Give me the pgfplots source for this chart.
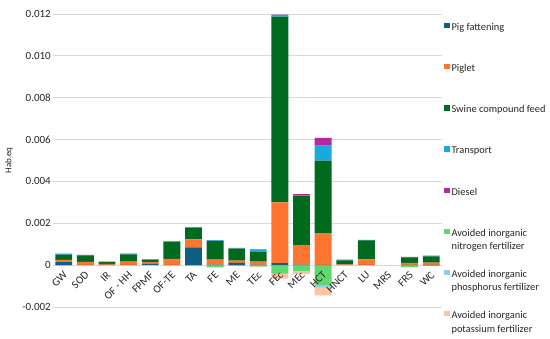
\documentclass[border=0pt]{standalone}
\usepackage{pgfplots}
\pgfplotsset{compat=1.18}
\usepackage{fontspec}
\setmainfont{Carlito}

\definecolor{cPig}{HTML}{0F5F85}
\definecolor{cPiglet}{HTML}{FF7530}
\definecolor{cFeed}{HTML}{006B1E}
\definecolor{cTrans}{HTML}{1AA9DE}
\definecolor{cDiesel}{HTML}{B5299E}
\definecolor{cN}{HTML}{5FD96E}
\definecolor{cP}{HTML}{92C9F0}
\definecolor{cK}{HTML}{FFC2A3}
\definecolor{cGrid}{HTML}{D9D9D9}
\definecolor{cText}{HTML}{262626}

\pgfplotsset{
  sq/.style={fill=#1, draw=none,
    legend image code/.code={\fill[#1] (0pt,4.95pt) rectangle (5.4pt,10.35pt);}},
  base/.style={
    scale only axis, width=389pt, height=293pt,
    xmin=-0.5, xmax=17.5, ymin=-0.002, ymax=0.012,
    ybar stacked, bar width=0.78,
    axis line style={draw=none}, major tick length=0pt,
    scaled y ticks=false,
  }
}

% positive contributions (one row per category, x = 0..17)
\pgfplotstableread{
x  pig      piglet   feed     trans    diesel
0  0.00015  0.00010  0.00025  0.00003  0.00002
1  0.00001  0.00015  0.00031  0.00001  0.00001
2  0.00001  0.00005  0.00009  0.00001  0.00001
3  0.00001  0.00016  0.00035  0.00002  0.00001
4  0.00006  0.00008  0.00011  0.00002  0.00002
5  0.00001  0.00029  0.00080  0.00001  0.00002
6  0.00085  0.00038  0.00056  0.00001  0.00002
7  0.00002  0.00024  0.00090  0.00002  0.00002
8  0.00011  0.00011  0.00057  0.00001  0.00002
9  0.00002  0.00015  0.00048  0.00010  0.00001
10 0.00010  0.00290  0.00888  0.00008  0.00001
11 0.00003  0.00093  0.00236  0.00003  0.00004
12 0.00001  0.00152  0.00346  0.00072  0.00037
13 0.00001  0.00003  0.00019  0.00001  0.00002
14 0.00001  0.00026  0.00091  0.00001  0.00002
15 0        0        0        0        0
16 0.00001  0.00010  0.00026  0.00001  0.00002
17 0.00001  0.00011  0.00030  0.00001  0.00002
}\pos
% avoided fertilizers (negative)
\pgfplotstableread{
x  N         P         K
0  -0.00001  0         0
1  0         0         0
2  0         0         0
3  0         0         0
4  0         0         0
5  0         0         0
6  -0.00002  0         0
7  -0.00010  0         -0.00001
8  -0.00002  0         0
9  -0.00006  0         -0.00004
10 -0.00040  -0.00002  -0.00022
11 -0.00029  -0.00001  -0.00012
12 -0.00094  -0.00013  -0.00038
13 0         0         0
14 0         0         0
15 0         0         0
16 -0.00010  0         0
17 -0.00003  0         0
}\negv

\begin{document}
\begin{tikzpicture}[font=\fontsize{10.4}{13.5}\selectfont, text=cText]
% negative stack with grid
\begin{axis}[base,
  xtick=\empty,
  ytick={-0.002,0,0.002,0.004,0.006,0.008,0.010,0.012},
  yticklabels={},
  ymajorgrids, grid style={cGrid, line width=0.8pt},
]
\addplot[sq=cN] table[x=x,y=N] {\negv};
\addplot[sq=cP] table[x=x,y=P] {\negv};
\addplot[sq=cK] table[x=x,y=K] {\negv};
\end{axis}
% positive stack, labels and legend
\begin{axis}[base,
  axis x line*=middle, axis y line*=left,
  xtick={0,...,17},
  xticklabels={GW,SOD,IR,OF - HH,FPMF,OF-TE,TA,FE,ME,TEc,FEc,MEc,HCT,HNCT,LU,MRS,FRS,WC},
  xticklabel style={xshift=-1pt, yshift=-4pt, rotate=45, anchor=north east, inner sep=1pt,
    font=\fontsize{11}{13}\selectfont},
  ytick={-0.002,0,0.002,0.004,0.006,0.008,0.010,0.012},
  yticklabels={-0.002,0,0.002,0.004,0.006,0.008,0.010,0.012},
  yticklabel style={inner sep=2pt, font=\fontsize{11}{13}\selectfont},
  ylabel={Hab.eq},
  every axis y label/.style={at={(rel axis cs:0,0.5)}, xshift=-44pt, rotate=90,
    anchor=center, font=\fontsize{9}{10}\selectfont},
  legend cell align=left,
  legend style={draw=none, fill=none, inner sep=0pt, at={(1.005,0.9766)}, anchor=north west,
    row sep=16.7pt, nodes={align=left, inner xsep=2pt, inner ysep=0pt}},
]
\addplot[sq=cPig] table[x=x,y=pig] {\pos};
\addlegendentry{\strut Pig fattening\\\strut}
\addplot[sq=cPiglet] table[x=x,y=piglet] {\pos};
\addlegendentry{\strut Piglet\\\strut}
\addplot[sq=cFeed] table[x=x,y=feed] {\pos};
\addlegendentry{\strut Swine compound feed\\\strut}
\addplot[sq=cTrans] table[x=x,y=trans] {\pos};
\addlegendentry{\strut Transport\\\strut}
\addplot[sq=cDiesel] table[x=x,y=diesel] {\pos};
\addlegendentry{\strut Diesel\\\strut}
\addlegendimage{sq=cN}
\addlegendentry{\strut Avoided inorganic\\\strut nitrogen fertilizer}
\addlegendimage{sq=cP}
\addlegendentry{\strut Avoided inorganic\\\strut phosphorus fertilizer}
\addlegendimage{sq=cK}
\addlegendentry{\strut Avoided inorganic\\\strut potassium fertilizer}
\end{axis}
\pgfresetboundingbox
\path ([xshift=-53pt,yshift=14pt]current axis.north west) rectangle ([xshift=108pt,yshift=-31pt]current axis.south east);
\end{tikzpicture}
\end{document}
